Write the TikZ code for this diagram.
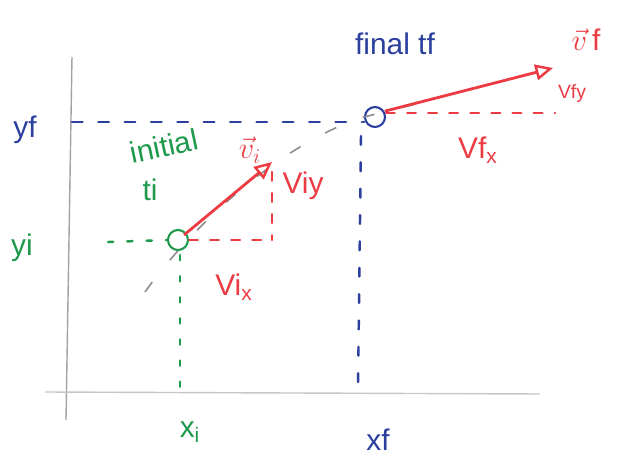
\documentclass[tikz,border=0pt]{standalone}
\usepackage{amsmath}
\usepackage{fontspec}
\setmainfont{Liberation Sans}
\usetikzlibrary{arrows.meta,positioning,calc}
\definecolor{pblue}{HTML}{2B3F9E}
\definecolor{pgreen}{HTML}{1F9A4C}
\definecolor{pred}{HTML}{EC3B43}
\definecolor{pgray}{HTML}{8C8C8C}
\tikzset{
  % hand-drawn look: pen points, guide lines, vectors
  pt/.style     = {circle, draw=#1, very thick, minimum size=4mm, inner sep=0pt},
  guide/.style  = {#1, line width=1.4pt, line cap=round, dash pattern=on 6pt off 9pt},
  comp/.style   = {pred, line width=1.3pt, line cap=round, dash pattern=on 5pt off 7pt},
  vec/.style    = {pred, line width=1.6pt, -{Triangle[open, length=10pt, width=9pt, line width=1.4pt]}},
  traj/.style   = {pgray, line width=0.9pt, dash pattern=on 7pt off 16pt},
  axis/.style   = {pgray!80, line width=0.8pt},
  lbl/.style    = {font=\fontsize{17}{19}\selectfont, text=#1, inner sep=1pt},
  lbl/.default  = pred,
}
\begin{document}
\begin{tikzpicture}[x=0.02cm, y=-0.02cm]
\useasboundingbox (0,0) rectangle (619,456);
% axes
\draw[axis] (72,57) -- (66,420);
\draw[axis, pgray!50] (45,392) -- (540,394);
% the two positions
\node[pt=pgreen] (pi) at (178,240) {};
\node[pt=pblue]  (pf) at (375,117) {};
\coordinate (traj0) at (145,292);
\coordinate (traj1) at (440,98);
\draw[traj] (traj0) .. controls (200,215) and (290,140) .. (pf.west) -- (traj1);
% guides to the axes
\coordinate (yfax) at (72,122);
\coordinate (xfax) at (358,390);
\coordinate (yiax) at (108,242);
\coordinate (xiax) at (180,390);
\draw[guide=pblue] (yfax) -- (pf.west |- yfax);
\draw[guide=pblue, dash pattern=on 5pt off 10pt] (pf.south) ++(-14,8) coordinate (xftop) -- (xfax);
\draw[guide=pgreen, dash pattern=on 3pt off 8pt] (yiax) -- (pi.west);
\draw[guide=pgreen, dash pattern=on 3pt off 9pt] (pi.south) ++(2,4) -- (xiax);
% velocity vectors and components
\coordinate (vitip) at (272,162);
\coordinate (vftip) at (553,68);
\draw[comp] (pi.east) -- (vitip |- pi);
\draw[comp] (vitip) ++(0,10) -- (vitip |- pi);
\draw[comp] (pf.east) ++(0,-4) coordinate (vfx0) -- (555,113);
\draw[vec] (pi) ++(6,-5) -- (vitip);
\draw[vec] (pf.north east) ++(2,2) -- (vftip);
% labels
\node[lbl=pblue] (tf) at (395,44) {final tf};
\node[lbl=pblue] (yf) at (25,130) {yf};
\node[lbl=pblue] (xf) at (378,440) {xf};
\node[lbl=pgreen] (yi) at (22,248) {yi};
\node[lbl=pgreen] (xi) at (190,432) {x\textsubscript{i}};
\node[lbl=pgreen, rotate=12] (init) at (164,146) {initial};
\node[lbl=pgreen] (ti) at (150,190) {ti};
\node[lbl] (vi) at (250,150) {$\vec{v}_i$};
\node[lbl] (viy) at (303,186) {Viy};
\node[lbl] (vix) at (234,287) {Vi\textsubscript{x}};
\node[lbl] (vf) at (586,40) {$\vec{v}$\,f};
\node[lbl] (vfx) at (478,150) {Vf\textsubscript{x}};
\node[lbl, font=\fontsize{11}{12}\selectfont] (vfy) at (572,94) {Vfy};
\end{tikzpicture}
\end{document}
